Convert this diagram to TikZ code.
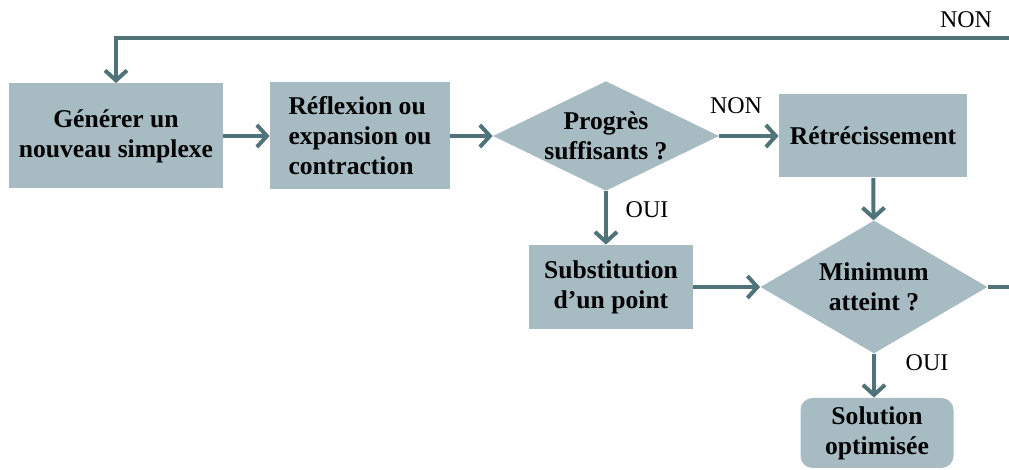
\documentclass[tikz,border=0pt]{standalone}
\usepackage{fontspec}
\setmainfont{Liberation Serif}
\usepackage{xcolor}
\usetikzlibrary{arrows.meta,positioning,shapes.geometric}

\definecolor{boxfill}{RGB}{166,187,194}
\definecolor{flowcol}{RGB}{80,115,121}

\begin{document}
\begin{tikzpicture}[x=0.5pt, y=-0.5pt,
    box/.style={rectangle, fill=boxfill, inner sep=2pt, align=center,
        font=\fontsize{12.8}{15}\selectfont\bfseries},
    choice/.style={diamond, fill=boxfill, inner sep=0pt, aspect=2, align=center,
        font=\fontsize{12.8}{15}\selectfont\bfseries},
    flow/.style={draw=flowcol, line width=2pt, -{Straight Barb[length=5pt, width=11pt]}},
    tag/.style={font=\fontsize{12}{14}\selectfont}]

    \clip[use as bounding box] (0,0) rectangle (1009,470);

    % Boxes
    \node[box, minimum width=107pt, minimum height=52.5pt] (gen) at (116,136) {G\'en\'erer un\\nouveau simplexe};
    \node[box, minimum width=90pt, minimum height=53.5pt, align=left] (ref) at (360,136) {R\'eflexion ou\\expansion ou\\contraction};
    \node[choice, minimum width=113pt, minimum height=54.5pt] (prog) at (606,136) {Progr\`es\\suffisants ?};
    \node[box, minimum width=94pt, minimum height=41.5pt] (retr) at (873,136) {R\'etr\'ecissement};
    \node[box, minimum width=82pt, minimum height=42pt] (sub) at (611,287) {Substitution\\d'un point};
    \node[choice, minimum width=113.5pt, minimum height=66.5pt] (mini) at (874,287) {Minimum\\atteint ?};
    \node[box, rounded corners=6pt, minimum width=76.5pt, minimum height=35pt] (sol) at (877,433) {Solution\\optimis\'ee};

    % Connectors
    \draw[flow] (gen) -- (ref);
    \draw[flow] (ref) -- (prog);
    \draw[flow] (prog) -- (retr);
    \draw[flow] (prog.south) -- (prog.south |- sub.north);
    \draw[flow] (retr) -- (mini);
    \draw[flow] (sub.east |- mini) -- (mini);
    \draw[flow] (mini.south) -- (mini.south |- sol.north);

    % Loop back (runs off the right edge)
    \coordinate (back) at (1040,38);
    \draw[flow] (mini.east) -| (back) -| (gen.north);

    % Labels
    \node[tag] (nonA) at (736,106) {NON};
    \node[tag] (ouiA) at (647,210) {OUI};
    \node[tag] (ouiB) at (927,363) {OUI};
    \node[tag] (nonB) at (966,20) {NON};
\end{tikzpicture}
\end{document}
